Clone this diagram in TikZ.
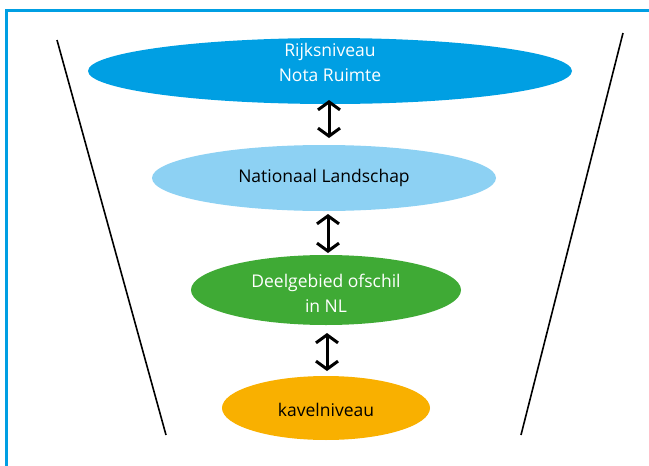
\documentclass[tikz,border=0pt]{standalone}
\usepackage{fontspec}
\setmainfont{Open Sans}
\usetikzlibrary{arrows.meta,shapes.geometric}
\definecolor{rijk}{HTML}{009FE3}
\definecolor{lichtblauw}{HTML}{8DD1F3}
\definecolor{groen}{HTML}{3FAA35}
\definecolor{oranje}{HTML}{F9B000}
\tikzset{
  lvl/.style={ellipse, inner sep=0pt, draw=none},
  lbl/.style={inner sep=0pt, align=center, font=\fontsize{17.5}{25}\selectfont},
  barb/.tip={Straight Barb[length=8pt,width=22pt,line width=3pt]},
  dubbel/.style={line width=3pt, barb-barb},
  funnel/.style={line width=1.6pt},
  kader/.style={draw=rijk, line width=3pt}
}
\begin{document}
\begin{tikzpicture}[x=1pt,y=-1pt]
\useasboundingbox (0,0) rectangle (649,466);
\draw[kader] (649,10.5) -- (6.5,10.5) -- (6.5,466);
\coordinate (l1) at (57,40); \coordinate (l2) at (166,435);
\coordinate (r1) at (623,33); \coordinate (r2) at (521,435);
\draw[funnel] (l1) -- (l2);
\draw[funnel] (r1) -- (r2);
\node[lvl, fill=rijk, minimum width=484pt, minimum height=66pt] (e1) at (330,71) {};
\node[lbl, text=white] (t1) at (330,62) {Rijksniveau\\Nota Ruimte};
\node[lvl, fill=lichtblauw, minimum width=344pt, minimum height=66pt] (e2) at (324,178) {};
\node[lbl, text=black] (t2) at (324,178) {Nationaal Landschap};
\node[lvl, fill=groen, minimum width=270pt, minimum height=70pt] (e3) at (326,290) {};
\node[lbl, text=white] (t3) at (326,293) {Deelgebied ofschil\\in NL};
\node[lvl, fill=oranje, minimum width=208pt, minimum height=64pt] (e4) at (326,408) {};
\node[lbl, text=black] (t4) at (326,410) {kavelniveau};
\coordinate (a1) at (329,100); \coordinate (b1) at (329,138);
\coordinate (a2) at (328,214); \coordinate (b2) at (328,253);
\coordinate (a3) at (327,333); \coordinate (b3) at (327,371);
\draw[dubbel] (a1) -- (b1);
\draw[dubbel] (a2) -- (b2);
\draw[dubbel] (a3) -- (b3);
\end{tikzpicture}
\end{document}
